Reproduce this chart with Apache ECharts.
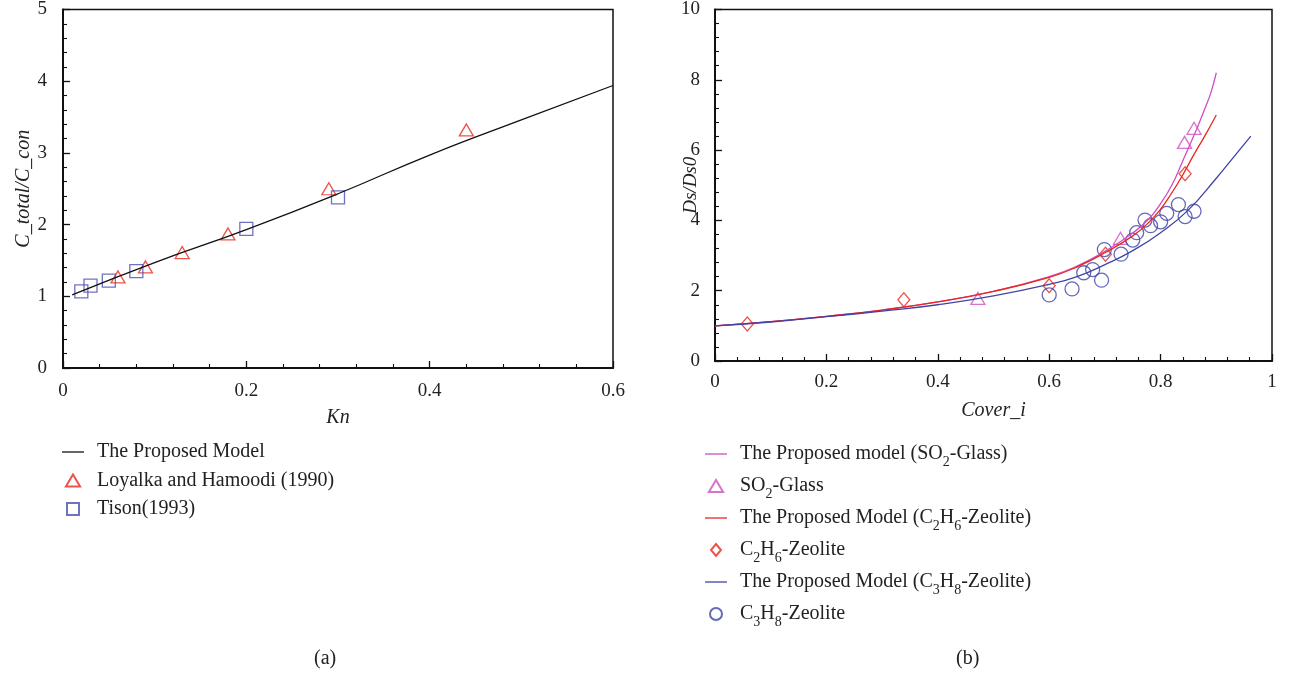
<!DOCTYPE html>
<html>
<head>
<meta charset="utf-8">
<script src="https://cdn.jsdelivr.net/npm/echarts@6/dist/echarts.min.js"></script>
<style>
  html, body { margin: 0; padding: 0; background: #fff; }
  #chart { width: 1290px; height: 674px; }
</style>
</head>
<body>
<div id="chart"></div>
<script>
// ---- Panel (a): slip correction vs Knudsen number ----
const modelA = [[0.01, 1.02], [0.1, 1.47], [0.2, 1.93], [0.3, 2.43], [0.4, 2.97], [0.5, 3.46], [0.6, 3.94]];
const loyalka = [[0.06, 1.27], [0.09, 1.41], [0.13, 1.61], [0.18, 1.87], [0.29, 2.50], [0.44, 3.32]];
const tison = [[0.02, 1.07], [0.03, 1.15], [0.05, 1.22], [0.08, 1.35], [0.2, 1.94], [0.3, 2.38]];

// ---- Panel (b): surface diffusivity ratio vs coverage ----
const modelSO2 = [[0, 1.0], [0.1, 1.12], [0.2, 1.27], [0.3, 1.45], [0.4, 1.68], [0.5, 1.98], [0.6, 2.40],
  [0.65, 2.70], [0.7, 3.12], [0.75, 3.64], [0.78, 4.06], [0.8, 4.48], [0.82, 5.0], [0.84, 5.7],
  [0.86, 6.42], [0.87, 6.8], [0.88, 7.2], [0.89, 7.62], [0.9, 8.2]];
const modelC2H6 = [[0, 1.0], [0.1, 1.12], [0.2, 1.27], [0.3, 1.45], [0.4, 1.68], [0.5, 1.98], [0.6, 2.38],
  [0.65, 2.68], [0.7, 3.08], [0.75, 3.56], [0.78, 3.96], [0.8, 4.32], [0.82, 4.78], [0.84, 5.3],
  [0.86, 5.88], [0.88, 6.42], [0.9, 7.0]];
const modelC3H8 = [[0, 1.0], [0.1, 1.11], [0.2, 1.26], [0.3, 1.42], [0.4, 1.6], [0.5, 1.85], [0.6, 2.18],
  [0.65, 2.4], [0.7, 2.74], [0.75, 3.14], [0.8, 3.65], [0.85, 4.3], [0.9, 5.2], [0.93, 5.78], [0.962, 6.4]];
const so2Glass = [[0.472, 1.78], [0.728, 3.49], [0.843, 6.22], [0.86, 6.62]];
const c2h6Zeolite = [[0.058, 1.05], [0.339, 1.74], [0.6, 2.14], [0.701, 3.04], [0.844, 5.33]];
const c3h8Zeolite = [[0.6, 1.88], [0.641, 2.05], [0.662, 2.51], [0.678, 2.60], [0.694, 2.30], [0.699, 3.17],
  [0.729, 3.04], [0.75, 3.44], [0.757, 3.65], [0.772, 4.01], [0.782, 3.85], [0.80, 3.96], [0.811, 4.20],
  [0.832, 4.45], [0.844, 4.11], [0.86, 4.26]];

const xTicksA = [0, 0.2, 0.4, 0.6];
const yTicksA = [0, 1, 2, 3, 4, 5];
const xTicksB = [0, 0.2, 0.4, 0.6, 0.8, 1];
const yTicksB = [0, 2, 4, 6, 8, 10];

const names = {
  modelA: 'The Proposed Model',
  loyalka: 'Loyalka and Hamoodi (1990)',
  tison: 'Tison(1993)',
  modelSO2: 'The Proposed model (SO2-Glass)',
  so2: 'SO2-Glass',
  modelC2H6: 'The Proposed Model (C2H6-Zeolite)',
  c2h6: 'C2H6-Zeolite',
  modelC3H8: 'The Proposed Model (C3H8-Zeolite)',
  c3h8: 'C3H8-Zeolite'
};

// rich-text versions with subscripted digits
const richNames = {};
richNames[names.modelSO2] = '{n|The Proposed model (SO}{s|2}{n|-Glass)}';
richNames[names.so2] = '{n|SO}{s|2}{n|-Glass}';
richNames[names.modelC2H6] = '{n|The Proposed Model (C}{s|2}{n|H}{s|6}{n|-Zeolite)}';
richNames[names.c2h6] = '{n|C}{s|2}{n|H}{s|6}{n|-Zeolite}';
richNames[names.modelC3H8] = '{n|The Proposed Model (C}{s|3}{n|H}{s|8}{n|-Zeolite)}';
richNames[names.c3h8] = '{n|C}{s|3}{n|H}{s|8}{n|-Zeolite}';

// legend glyphs: short dash for curves, outlined shapes for measurements
const ICON_DASH = 'path://M0,0 L22,0 L22,1.3 L0,1.3 Z';
const ICON_TRI = 'path://M6.5,0 L13,11 L0,11 Z';
const ICON_SQUARE = 'path://M0,0 L11,0 L11,11 L0,11 Z';
const ICON_DIAMOND = 'path://M5,0 L10,6 L5,12 L0,6 Z';
const ICON_CIRCLE = 'circle';

const SERIF = '"Liberation Serif", "DejaVu Serif", serif';
const RED = '#e8281e';
const BLUE_A = '#4b4fb0';
const MAGENTA = '#cf4fc2';
const BLUE_B = '#3f44a6';

function valueAxis(gridIndex, ticks, extra) {
  const interval = ticks[1] - ticks[0];
  return Object.assign({
    type: 'value',
    gridIndex: gridIndex,
    min: ticks[0],
    max: ticks[ticks.length - 1],
    interval: interval,
    axisLine: { show: true, onZero: false, lineStyle: { color: '#111', width: 2 } },
    axisTick: { show: true, inside: true, length: 7, lineStyle: { color: '#111', width: 1.3 } },
    minorTick: { show: true, splitNumber: 5, length: 4, lineStyle: { color: '#111', width: 1.1 } },
    splitLine: { show: false },
    nameLocation: 'middle',
    nameMoveOverlap: false,
    nameTextStyle: { color: '#222', fontFamily: SERIF, fontSize: 20, fontStyle: 'italic' }
  }, extra);
}

function tickLabels(margin) {
  return { color: '#222', fontFamily: SERIF, fontSize: 19, margin: margin };
}

const hollow = (color) => ({ color: 'transparent', borderColor: color, borderWidth: 1.3 });

const option = {
  backgroundColor: '#fff',
  animation: false,
  grid: [
    { left: 63, top: 9, width: 550, height: 359, show: true, borderColor: '#111', borderWidth: 1.5, backgroundColor: 'transparent' },
    { left: 715, top: 9, width: 557, height: 352, show: true, borderColor: '#111', borderWidth: 1.5, backgroundColor: 'transparent' }
  ],
  xAxis: [
    valueAxis(0, xTicksA, { name: 'Kn', nameGap: 40, axisLabel: tickLabels(14) }),
    valueAxis(1, xTicksB, { name: 'Cover_i', nameGap: 40, axisLabel: tickLabels(12) })
  ],
  yAxis: [
    valueAxis(0, yTicksA, { name: 'C_total/C_con', nameGap: 29, axisLabel: tickLabels(16) }),
    valueAxis(1, yTicksB, {
      name: 'Ds/Ds0', nameGap: 15, axisLabel: tickLabels(15),
      nameTextStyle: { color: '#222', fontFamily: SERIF, fontSize: 19, fontStyle: 'italic' }
    })
  ],
  legend: [
    {
      orient: 'vertical', left: 62, top: 441, padding: 0, itemWidth: 22, itemHeight: 12, itemGap: 6.5,
      data: [
        { name: names.modelA, icon: ICON_DASH },
        { name: names.loyalka, icon: ICON_TRI },
        { name: names.tison, icon: ICON_SQUARE }
      ],
      textStyle: { fontFamily: SERIF, fontSize: 20, color: '#222', lineHeight: 22, padding: [0, 0, 0, 8] }
    },
    {
      orient: 'vertical', left: 705, top: 444, padding: 0, itemWidth: 22, itemHeight: 12, itemGap: 7,
      data: [
        { name: names.modelSO2, icon: ICON_DASH },
        { name: names.so2, icon: ICON_TRI },
        { name: names.modelC2H6, icon: ICON_DASH },
        { name: names.c2h6, icon: ICON_DIAMOND },
        { name: names.modelC3H8, icon: ICON_DASH },
        { name: names.c3h8, icon: ICON_CIRCLE }
      ],
      formatter: (n) => richNames[n] || n,
      textStyle: {
        fontFamily: SERIF, fontSize: 20, color: '#222', padding: [0, 0, 0, 8],
        rich: {
          n: { fontFamily: SERIF, fontSize: 20, color: '#222', lineHeight: 24 },
          s: { fontFamily: SERIF, fontSize: 14, color: '#222', lineHeight: 14, verticalAlign: 'bottom', padding: [0, 0, -3, 0] }
        }
      }
    }
  ],
  graphic: [
    { type: 'text', left: 314, top: 649, style: { text: '(a)', fontFamily: SERIF, fontSize: 20, fill: '#222' } },
    { type: 'text', left: 956, top: 649, style: { text: '(b)', fontFamily: SERIF, fontSize: 20, fill: '#222' } }
  ],
  series: [
    { name: names.modelA, type: 'line', xAxisIndex: 0, yAxisIndex: 0, data: modelA, smooth: true, symbol: 'none',
      lineStyle: { color: '#111', width: 1.3 }, itemStyle: { color: '#111' } },
    { name: names.loyalka, type: 'scatter', xAxisIndex: 0, yAxisIndex: 0, data: loyalka, symbol: 'triangle', symbolSize: [14, 12],
      itemStyle: hollow(RED) },
    { name: names.tison, type: 'scatter', xAxisIndex: 0, yAxisIndex: 0, data: tison, symbol: 'rect', symbolSize: 13,
      itemStyle: hollow(BLUE_A) },

    { name: names.modelSO2, type: 'line', xAxisIndex: 1, yAxisIndex: 1, data: modelSO2, smooth: true, symbol: 'none',
      lineStyle: { color: MAGENTA, width: 1.3 }, itemStyle: { color: MAGENTA } },
    { name: names.so2, type: 'scatter', xAxisIndex: 1, yAxisIndex: 1, data: so2Glass, symbol: 'triangle', symbolSize: [14, 12],
      itemStyle: hollow(MAGENTA) },
    { name: names.modelC2H6, type: 'line', xAxisIndex: 1, yAxisIndex: 1, data: modelC2H6, smooth: true, symbol: 'none',
      lineStyle: { color: RED, width: 1.3 }, itemStyle: { color: RED } },
    { name: names.c2h6, type: 'scatter', xAxisIndex: 1, yAxisIndex: 1, data: c2h6Zeolite, symbol: 'diamond', symbolSize: [12, 14],
      itemStyle: hollow(RED) },
    { name: names.modelC3H8, type: 'line', xAxisIndex: 1, yAxisIndex: 1, data: modelC3H8, smooth: true, symbol: 'none',
      lineStyle: { color: BLUE_B, width: 1.3 }, itemStyle: { color: BLUE_B } },
    { name: names.c3h8, type: 'scatter', xAxisIndex: 1, yAxisIndex: 1, data: c3h8Zeolite, symbol: 'circle', symbolSize: 14,
      itemStyle: hollow(BLUE_B) }
  ]
};

const chart = echarts.init(document.getElementById('chart'), null, { renderer: 'canvas' });
chart.setOption(option);
</script>
</body>
</html>
